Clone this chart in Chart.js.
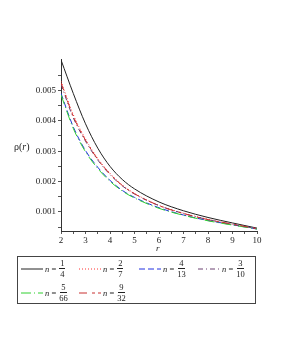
<!DOCTYPE html>
<html>
<head>
<meta charset="utf-8">
<script src="https://cdn.jsdelivr.net/npm/chart.js@4"></script>
<style>
  body { margin: 0; background: #fff; }
  #wrap { position: relative; width: 281px; height: 363px; font-family: "Liberation Serif", serif; color: #222; }
  #chart { position: absolute; left: 0; top: 0; }
  .ylab { position: absolute; left: 14px; top: 141px; font-size: 10px; }
  .xlab { position: absolute; left: 156px; top: 243px; font-size: 9px; font-style: italic; }
  #legend { position: absolute; left: 17px; top: 256px; width: 237px; height: 46px; border: 1px solid #444; }
  .item { position: absolute; display: flex; align-items: center; font-size: 8.5px; }
  .item svg { margin-right: 2px; }
  .frac { display: inline-flex; flex-direction: column; align-items: center; margin-left: 3px; line-height: 10px; }
  .frac .num { border-bottom: 0.8px solid #222; padding: 0 1px; }
</style>
</head>
<body>
<div id="wrap">
  <canvas id="chart" width="281" height="363"></canvas>
  <div class="ylab">&rho;(<i>r</i>)</div>
  <div class="xlab">r</div>
  <div id="legend"></div>
</div>
<script>
document.addEventListener('DOMContentLoaded', function () {
    // ------------------ DATA ------------------
    const radii = [2, 2.5, 3, 3.5, 4, 4.5, 5, 6, 7, 8, 9, 10];

    const rhoQuarter         = [0.00600, 0.00490, 0.00390, 0.00310, 0.00250, 0.00207, 0.00176, 0.00133, 0.00104, 0.00082, 0.00064, 0.00047];
    const rhoTwoSevenths     = [0.00530, 0.00420, 0.00340, 0.00276, 0.00227, 0.00189, 0.00161, 0.00122, 0.00096, 0.00076, 0.00060, 0.00045];
    const rhoFourThirteenths = [0.00490, 0.00380, 0.00302, 0.00247, 0.00204, 0.00171, 0.00148, 0.00114, 0.00090, 0.00072, 0.00058, 0.00044];
    const rhoThreeTenths     = [0.00520, 0.00410, 0.00333, 0.00271, 0.00223, 0.00186, 0.00159, 0.00121, 0.00095, 0.00075, 0.00059, 0.00045];
    const rhoFiveSixtySixths = [0.00485, 0.00375, 0.00298, 0.00243, 0.00201, 0.00169, 0.00146, 0.00112, 0.00089, 0.00071, 0.00057, 0.00044];
    const rhoNineThirtySeconds = [0.00525, 0.00415, 0.00336, 0.00273, 0.00225, 0.00187, 0.00160, 0.00121, 0.00095, 0.00075, 0.00060, 0.00045];

    const xTicks = [2, 2.5, 3, 3.5, 4, 4.5, 5, 5.5, 6, 6.5, 7, 7.5, 8, 8.5, 9, 9.5, 10];
    const xLabels = [2, 3, 4, 5, 6, 7, 8, 9, 10];
    const yTicks = [0.0005, 0.001, 0.0015, 0.002, 0.0025, 0.003, 0.0035, 0.004, 0.0045, 0.005, 0.0055];
    const yLabels = [0.001, 0.002, 0.003, 0.004, 0.005];

    const seriesNames = [['1', '4'], ['2', '7'], ['4', '13'], ['3', '10'], ['5', '66'], ['9', '32']];

    // ------------------ STYLES ------------------
    const series = [
        { values: rhoQuarter, color: '#222222', dash: [] },
        { values: rhoTwoSevenths, color: '#ff3030', dash: [1, 2] },
        { values: rhoFourThirteenths, color: '#2030e0', dash: [6, 3] },
        { values: rhoThreeTenths, color: '#6a4070', dash: [5, 3, 1, 3] },
        { values: rhoFiveSixtySixths, color: '#30d030', dash: [10, 3, 1, 3] },
        { values: rhoNineThirtySeconds, color: '#c83030', dash: [8, 5, 3, 3] }
    ];
    const legendPos = [[3, 11], [61, 11], [121, 11], [180, 11], [3, 35], [61, 35]];

    const datasets = series.map((s, i) => ({
        label: 'n = ' + seriesNames[i].join('/'),
        data: radii.map((r, j) => ({ x: r, y: s.values[j] })),
        borderColor: s.color,
        borderDash: s.dash,
        borderWidth: 1,
        pointRadius: 0,
        fill: false,
        cubicInterpolationMode: 'monotone'
    })).reverse();

    const tickFont = { family: 'Liberation Serif', size: 9 };
    const near = (v, list) => list.some(t => Math.abs(t - v) < 1e-9);

    new Chart(document.getElementById('chart').getContext('2d'), {
        type: 'line',
        data: { datasets: datasets },
        options: {
            responsive: false,
            animation: false,
            layout: { padding: { top: 59, right: 24, bottom: 112, left: 0 } },
            plugins: { legend: { display: false }, tooltip: { enabled: false } },
            scales: {
                x: {
                    type: 'linear',
                    min: 2,
                    max: 10,
                    afterBuildTicks: s => { s.ticks = xTicks.map(v => ({ value: v })); },
                    afterFit: s => { s.height = 20; },
                    ticks: {
                        autoSkip: false,
                        maxRotation: 0,
                        padding: 1,
                        color: '#222',
                        font: tickFont,
                        callback: v => near(v, xLabels) ? String(v) : ''
                    },
                    grid: {
                        drawOnChartArea: false,
                        tickLength: 3,
                        color: '#555'
                    },
                    border: { color: '#333', width: 1 }
                },
                y: {
                    min: 0.000375,
                    max: 0.00603,
                    afterBuildTicks: s => { s.ticks = yTicks.map(v => ({ value: v })); },
                    afterFit: s => { s.width = 61; },
                    ticks: {
                        autoSkip: false,
                        padding: 2,
                        color: '#222',
                        font: tickFont,
                        callback: v => near(v, yLabels) ? v.toFixed(3) : ''
                    },
                    grid: {
                        drawOnChartArea: false,
                        tickLength: 3,
                        color: '#555'
                    },
                    border: { color: '#333', width: 1 }
                }
            }
        }
    });

    // ------------------ LEGEND ------------------
    const legend = document.getElementById('legend');
    series.forEach((s, i) => {
        const item = document.createElement('div');
        item.className = 'item';
        item.style.left = legendPos[i][0] + 'px';
        item.style.top = (legendPos[i][1] - 10) + 'px';
        item.innerHTML =
            '<svg width="22" height="4"><line x1="0" y1="2" x2="22" y2="2" stroke="' + s.color +
            '" stroke-width="1" stroke-dasharray="' + (s.dash.length ? s.dash.join(' ') : 'none') + '"/></svg>' +
            '<span><i>n</i> =</span>' +
            '<span class="frac"><span class="num">' + seriesNames[i][0] + '</span><span>' + seriesNames[i][1] + '</span></span>';
        legend.appendChild(item);
    });
});
</script>
</body>
</html>
